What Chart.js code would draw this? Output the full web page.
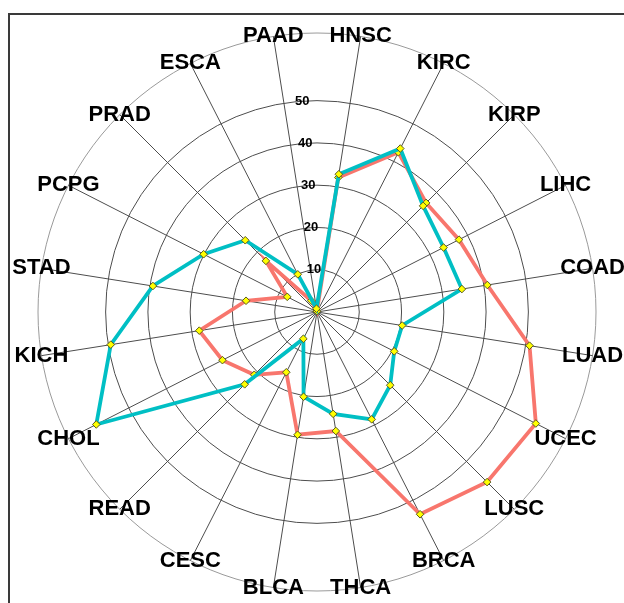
<!DOCTYPE html>
<html>
<head>
<meta charset="utf-8">
<script src="https://cdn.jsdelivr.net/npm/chart.js@4.4.1/dist/chart.umd.min.js"></script>
<style>
  html, body { margin: 0; padding: 0; background: #fff; overflow: hidden; }
  #wrap { position: relative; width: 624px; height: 603px; overflow: hidden; }
  #frame { position: absolute; left: 8px; top: 13px; width: 800px; height: 800px;
           border-left: 2px solid #3a3a3a; border-top: 2px solid #3a3a3a; }
  #chart { position: absolute; left: 0; top: 0; }
</style>
</head>
<body>
<div id="wrap">
  <div id="frame"></div>
  <canvas id="chart" width="634" height="624"></canvas>
</div>
<script>
const cancerTypes = ['HNSC', 'KIRC', 'KIRP', 'LIHC', 'COAD', 'LUAD', 'UCEC', 'LUSC', 'BRCA', 'THCA',
                     'BLCA', 'CESC', 'READ', 'CHOL', 'KICH', 'STAD', 'PCPG', 'PRAD', 'ESCA', 'PAAD'];

const tealValues = [33.0, 43.4, 35.5, 33.6, 34.7, 20.4, 20.5, 24.5, 28.5, 24.4,
                    20.3, 7.1, 24.2, 58.6, 49.4, 39.3, 30.1, 24.0, 10.0, 0.8];

const salmonValues = [32.2, 42.4, 36.5, 37.7, 40.8, 50.9, 58.1, 56.9, 53.7, 28.5,
                      29.4, 16.0, 21.0, 25.1, 28.2, 17.0, 7.9, 17.1, 3.0, 0.2];

const ringValues = [0, 10, 20, 30, 40, 50, 66];
const tickLabels = [10, 20, 30, 40, 50];

// labels sit centered on the outer ring, tick numbers along the top spoke
const labelPlugin = {
  id: 'ringLabels',
  beforeDatasetsDraw(chart) {
    const scale = chart.scales.r;
    const ctx = chart.ctx;
    ctx.save();
    ctx.textAlign = 'center';
    ctx.textBaseline = 'middle';
    ctx.fillStyle = '#000';

    ctx.font = 'bold 22px "Liberation Sans", Arial, sans-serif';
    cancerTypes.forEach((name, i) => {
      const p = scale.getPointPosition(i, scale.drawingArea);
      ctx.fillText(name, p.x, p.y);
    });

    ctx.font = 'bold 13px "Liberation Sans", Arial, sans-serif';
    const tilt = -4 * Math.PI / 180;
    tickLabels.forEach(v => {
      const d = scale.getDistanceFromCenterForValue(v);
      ctx.fillText(String(v), scale.xCenter + d * Math.sin(tilt), scale.yCenter - d * Math.cos(tilt));
    });
    ctx.restore();
  }
};

const pointStyle = {
  pointStyle: 'rectRot',
  pointRadius: 3.8,
  pointBackgroundColor: '#FFFF00',
  pointBorderColor: '#5a5a20',
  pointBorderWidth: 1
};

const config = {
  type: 'radar',
  data: {
    labels: cancerTypes,
    datasets: [
      {
        label: 'teal',
        data: tealValues,
        borderColor: '#00BFC4',
        borderWidth: 3.8,
        ...pointStyle
      },
      {
        label: 'salmon',
        data: salmonValues,
        borderColor: '#F8766D',
        borderWidth: 3.8,
        ...pointStyle
      }
    ]
  },
  options: {
    responsive: false,
    animation: false,
    devicePixelRatio: 1,
    layout: { padding: { left: 38, right: 38, top: 33, bottom: 33 } },
    elements: {
      line: { tension: 0, fill: false }
    },
    plugins: {
      legend: { display: false },
      tooltip: { enabled: false }
    },
    scales: {
      r: {
        min: 0,
        max: 66,
        startAngle: 9,
        afterBuildTicks: (axis) => {
          axis.ticks = ringValues.map(v => ({ value: v }));
        },
        ticks: { display: false },
        pointLabels: { display: false },
        grid: {
          circular: true,
          color: (c) => (c.tick && c.tick.value === 66) ? '#9a9a9a' : '#4d4d4d',
          lineWidth: 1
        },
        angleLines: { color: '#4d4d4d', lineWidth: 1 }
      }
    }
  },
  plugins: [labelPlugin]
};

new Chart(document.getElementById('chart'), config);
</script>
</body>
</html>
